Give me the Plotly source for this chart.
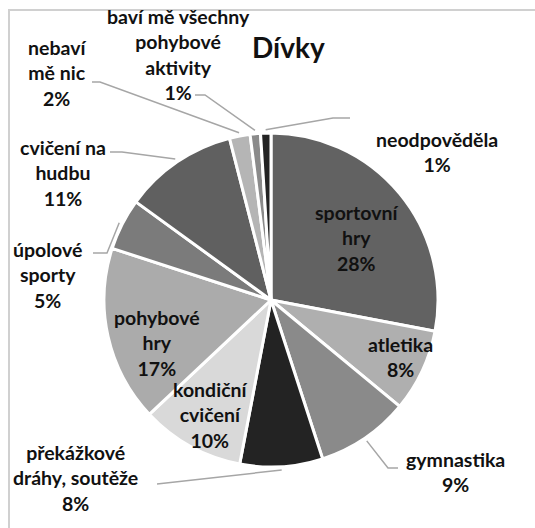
import math
import plotly.graph_objects as go

# Survey answers (girls): favourite kinds of physical activity, in percent
categories = [
    "sportovní hry", "atletika", "gymnastika", "překážkové dráhy, soutěže",
    "kondiční cvičení", "pohybové hry", "úpolové sporty", "cvičení na hudbu",
    "nebaví mě nic", "baví mě všechny pohybové aktivity", "neodpověděla",
]
values = [28, 8, 9, 8, 10, 17, 5, 11, 2, 1, 1]
label_lines = [
    ["sportovní", "hry"], ["atletika"], ["gymnastika"], ["překážkové", "dráhy, soutěže"],
    ["kondiční", "cvičení"], ["pohybové", "hry"], ["úpolové", "sporty"], ["cvičení na", "hudbu"],
    ["nebaví", "mě nic"], ["baví mě všechny", "pohybové", "aktivity"], ["neodpověděla"],
]
colors = ["#626262", "#afafaf", "#8a8a8a", "#232323", "#d9d9d9", "#ababab",
          "#7b7b7b", "#606060", "#b5b5b5", "#8a8a8a", "#232323"]

W, H = 535, 528
CX, CY, R = 271, 300, 167  # pie centre and radius in pixels


def px(x):
    return x / W


def py(y):
    return 1 - y / H


# label placement: text-block centre, and for outside labels the leader path
# (points from the label side towards the slice)
label_pos = {
    0: (356, 238), 1: (400, 357), 2: (455, 472), 3: (75, 478),
    4: (210, 415), 5: (157, 343), 6: (48, 275), 7: (63, 173),
    8: (57, 73), 9: (178, 54), 10: (437, 152),
}
leader = {
    2: [(398, 468), (388, 468)],
    3: [(157, 484)],
    6: [(93, 253), (107, 253)],
    7: [(110, 152), (122, 152)],
    8: [(92, 82), (100, 82)],
    9: [(195, 95), (205, 95)],
    10: [(350, 118), (333, 118)],
}

fig = go.Figure(go.Pie(
    labels=categories,
    values=values,
    sort=False,
    direction="clockwise",
    rotation=0,
    marker=dict(colors=colors, line=dict(color="white", width=3)),
    textinfo="none",
    hoverinfo="label+percent",
    showlegend=False,
    domain=dict(x=[px(CX - R), px(CX + R)], y=[py(CY + R), py(CY - R)]),
))

total = sum(values)
cum = 0
shapes = []
annotations = []
for i, v in enumerate(values):
    mid = (cum + v / 2) / total * 2 * math.pi
    cum += v
    text = "<br>".join(label_lines[i] + [f"{round(v / total * 100)}%"])
    lx, ly = label_pos[i]
    annotations.append(dict(
        x=px(lx), y=py(ly), xref="paper", yref="paper", text=text,
        showarrow=False, align="center", xanchor="center", yanchor="middle",
        font=dict(family="Lato", size=19.5, color="#111111", weight="bold"),
    ))
    if i in leader:
        ex = CX + R * 1.02 * math.sin(mid)
        ey = CY - R * 1.02 * math.cos(mid)
        pts = leader[i] + [(ex, ey)]
        path = "M " + " L ".join(f"{px(x):.5f},{py(y):.5f}" for x, y in pts)
        shapes.append(dict(type="path", path=path, xref="paper", yref="paper",
                           line=dict(color="#a6a6a6", width=1.5)))

# chart frame (only its top and left edges fall inside the page)
frame_path = (f"M {px(9):.5f},{py(H + 5):.5f} L {px(9):.5f},{py(10):.5f} "
              f"L {px(W + 5):.5f},{py(10):.5f}")
shapes.append(dict(type="path", path=frame_path, xref="paper", yref="paper",
                   line=dict(color="#d0d0d0", width=2)))

annotations.append(dict(
    x=px(288), y=py(47), xref="paper", yref="paper", text="Dívky",
    showarrow=False, xanchor="center", yanchor="middle",
    font=dict(family="Lato", size=28, color="#111111", weight="bold"),
))

fig.update_layout(
    width=W, height=H,
    margin=dict(l=0, r=0, t=0, b=0),
    paper_bgcolor="white", plot_bgcolor="white",
    shapes=shapes, annotations=annotations,
)

fig.write_html("out.html")
